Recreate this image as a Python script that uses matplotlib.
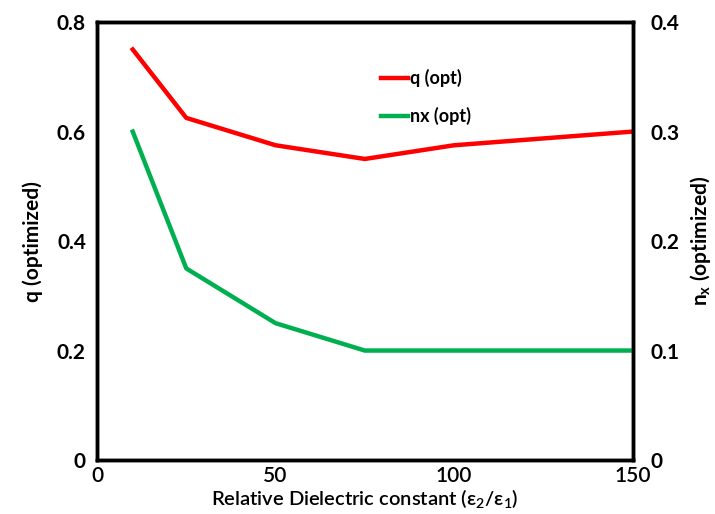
import matplotlib
matplotlib.use("Agg")
import matplotlib.pyplot as plt

plt.rcParams['font.family'] = ['Lato', 'DejaVu Sans']

eps_ratio = [10, 25, 50, 75, 100, 150]
q_opt = [0.75, 0.625, 0.575, 0.55, 0.575, 0.6]
nx_opt = [0.3, 0.175, 0.125, 0.1, 0.1, 0.1]

fig = plt.figure(figsize=(7.15, 5.14), dpi=100)
ax = fig.add_axes([0.1357, 0.105, 0.749, 0.852])
ax2 = ax.twinx()

l1, = ax.plot(eps_ratio, q_opt, color="#ff0000", lw=3.2, label="q (opt)")
l2, = ax2.plot(eps_ratio, nx_opt, color="#00b050", lw=3.2, label="nx (opt)")

ax.set_xlim(0, 150)
ax.set_ylim(0, 0.8)
ax2.set_ylim(0, 0.4)
ax.set_xticks([0, 50, 100, 150])
ax.set_yticks([0, 0.2, 0.4, 0.6, 0.8])
ax.set_yticklabels(["0", "0.2", "0.4", "0.6", "0.8"])
ax2.set_yticks([0, 0.1, 0.2, 0.3, 0.4])
ax2.set_yticklabels(["0", "0.1", "0.2", "0.3", "0.4"])

for a in (ax, ax2):
    for s in a.spines.values():
        s.set_linewidth(2.5)
    a.tick_params(length=0, labelsize=15, pad=8)
for lab in ax.get_yticklabels() + ax2.get_yticklabels():
    lab.set_fontweight("bold")
for lab in ax.get_xticklabels():
    lab.set_fontweight("semibold")
ax.tick_params(axis="x", pad=4)
ax2.tick_params(axis="y", pad=13)

ax.set_xlabel(r"Relative Dielectric constant ($\mathregular{\epsilon_2/\epsilon_1}$)",
              fontsize=14.5, fontweight="semibold", labelpad=1)
ax.set_ylabel("q (optimized)", fontsize=15, fontweight="bold", labelpad=10)
ax2.set_ylabel(r"$\mathregular{n_x}$ (optimized)", fontsize=15, fontweight="bold", labelpad=6)

ax.legend(handles=[l1, l2], loc="upper left", bbox_to_anchor=(0.5, 0.93),
          frameon=False, handlelength=1.5, handletextpad=0.1, labelspacing=1.1,
          prop={"weight": "bold", "size": 13})

fig.savefig("out.png", dpi=100)
